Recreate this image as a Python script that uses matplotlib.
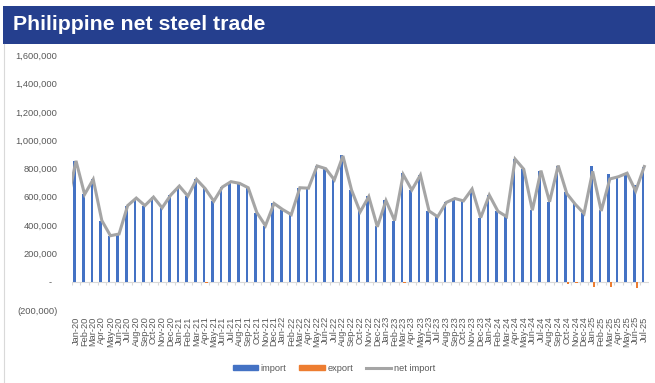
import matplotlib.pyplot as plt
import numpy as np
from matplotlib.patches import Patch, Rectangle
from matplotlib.lines import Line2D
from matplotlib.ticker import FuncFormatter

# Monthly Philippine steel trade, tonnes
months = [f"{m}-{y}" for y in range(20, 26)
          for m in ["Jan", "Feb", "Mar", "Apr", "May", "Jun",
                    "Jul", "Aug", "Sep", "Oct", "Nov", "Dec"]][:67]

imports = [
    854, 617, 723, 432, 325, 337, 538, 591, 538, 598, 522, 612,   # 2020
    676, 605, 723, 664, 569, 669, 707, 695, 664, 489, 396, 553,   # 2021
    510, 474, 664, 664, 818, 799, 723, 894, 648, 498, 605, 391,   # 2022
    576, 432, 766, 648, 754, 503, 463, 560, 588, 576, 655, 453,   # 2023
    612, 498, 463, 866, 795, 505, 785, 565, 821, 636, 553, 482,   # 2024
    818, 505, 761, 747, 771, 683, 814,                            # 2025
]
exports = [
    0, 0, 0, 0, 0, 0, 0, 0, 0, 0, 0, 0,
    0, 0, 0, -6, 0, 0, 0, 0, 0, 0, 0, 0,
    0, 0, 0, -3, 0, 0, -3, -5, 0, -5, -4, -3,
    -3, 0, -9, 0, 0, -3, -4, 0, 0, -5, 0, 0,
    0, 0, -3, 0, 0, 0, 0, 0, 0, -13, -7, 0,
    -38, -5, -35, -5, -4, -42, 0,
]
# net import for the month before the first label (Dec-19)
net_prev = 560

imports = np.array(imports) * 1000
exports = np.array(exports) * 1000
net_import = np.concatenate([[net_prev * 1000], imports + exports])

BLUE = "#4472C4"
ORANGE = "#ED7D31"
GREY = "#A5A5A5"
TEXT = "#595959"
AXIS = "#D9D9D9"
plt.rcParams["font.family"] = ["Liberation Sans", "DejaVu Sans"]

W, H = 655, 383
fig = plt.figure(figsize=(W / 100, H / 100), dpi=100)

# title banner
fig.add_artist(Rectangle((3.3 / W, (H - 44.3) / H), 1, 38.6 / H,
                         transform=fig.transFigure, color="#253F8E", lw=0))
fig.text(13 / W, (H - 24.5) / H, "Philippine net steel trade", color="white",
         fontsize=15.3, fontweight="bold", va="center", ha="left")
fig.add_artist(Line2D([4 / W, 4 / W], [0, (H - 44.3) / H],
                      transform=fig.transFigure, color=AXIS, lw=0.8))

ax = fig.add_axes([71.7 / W, (H - 310) / H, 576.9 / W, 254.7 / H])
x = np.arange(len(months))
bw = 0.3
ax.bar(x - bw / 2, imports, width=bw, color=BLUE, zorder=2)
ax.bar(x + bw / 2, exports, width=bw, color=ORANGE, zorder=2)
ax.plot(np.arange(-1, len(months)), net_import, color=GREY, lw=2.2,
        zorder=3, solid_joinstyle="miter")

ax.set_xlim(-0.5, len(months) - 0.5)
ax.set_ylim(-200000, 1600000)
ax.set_yticks(range(-200000, 1600001, 200000))


def accounting(v, pos):
    if v == 0:
        return "-  "
    if v < 0:
        return f"({abs(v):,.0f})"
    return f"{v:,.0f}"


ax.yaxis.set_major_formatter(FuncFormatter(accounting))
ax.set_xticks(x)
ax.set_xticklabels(months, rotation=90, ha="center", va="top")
ax.tick_params(axis="y", length=0, pad=10.4, labelsize=6.7, labelcolor=TEXT)
ax.tick_params(axis="x", length=0, pad=4.5, labelsize=6.7, labelcolor=TEXT)

# category axis line at zero with tick marks between months
ax.axhline(0, color=AXIS, lw=0.8, zorder=1)
ax.vlines(np.arange(-0.5, len(months)), 0, -21000, color=AXIS, lw=0.8, zorder=1)

for s in ax.spines.values():
    s.set_visible(False)

handles = [Patch(color=BLUE, label="import"),
           Patch(color=ORANGE, label="export"),
           Line2D([], [], color=GREY, lw=2.2, label="net import")]
fig.legend(handles=handles, loc="center", bbox_to_anchor=(334 / W, 0.038),
           ncol=3, frameon=False, fontsize=6.7, labelcolor=TEXT,
           handlelength=2.7, handleheight=0.55, handletextpad=0.3,
           columnspacing=1.4)

fig.savefig("out.png", dpi=100)
